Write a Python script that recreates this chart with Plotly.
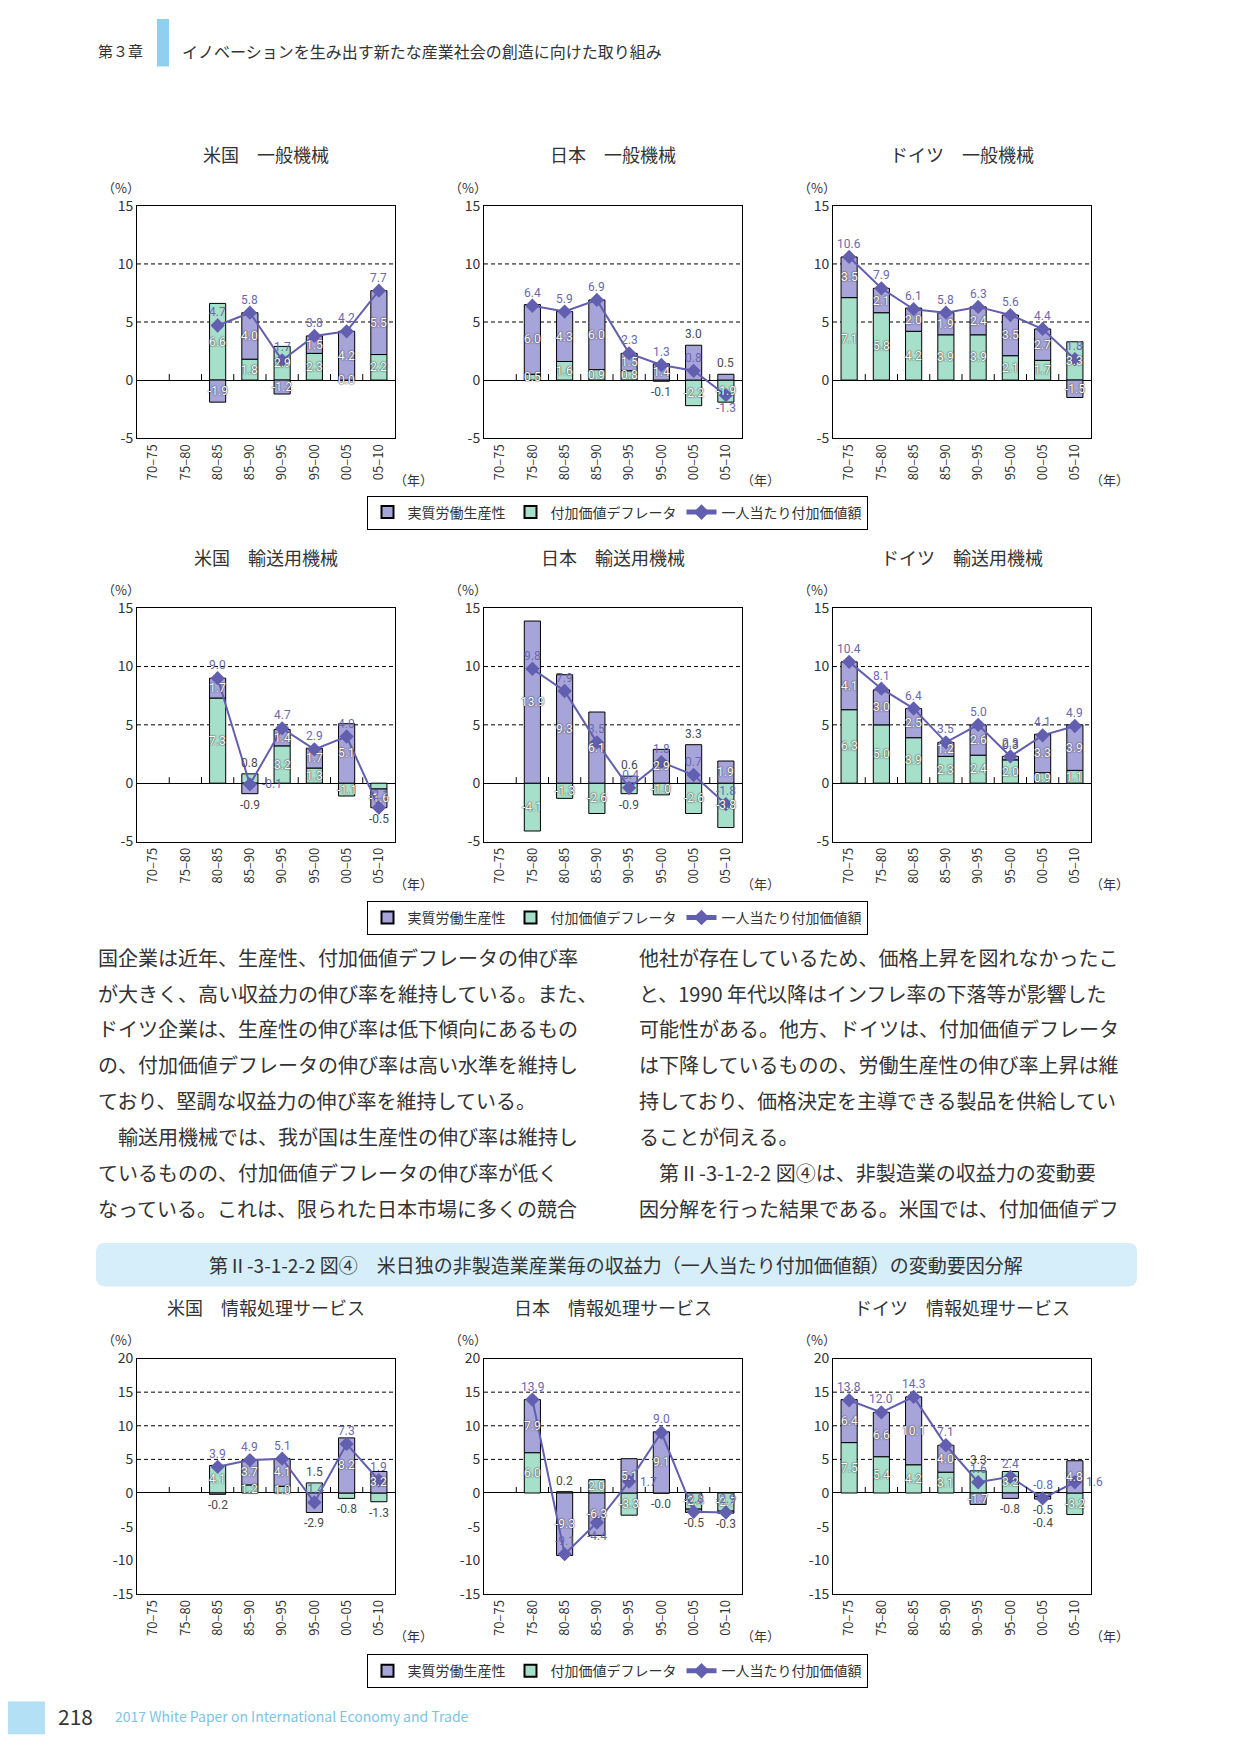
import math
import plotly.graph_objects as go

W, H = 1241, 1754
OFF = 8  # page body margin of the browser

periods = ["70–75", "75–80", "80–85", "85–90", "90–95", "95–00", "00–05", "05–10"]

# 一般機械
us_gen_prod = [None, None, -1.9, 4.0, -1.2, 1.5, 4.2, 5.5]
us_gen_defl = [None, None, 6.6, 1.8, 2.9, 2.3, 0.0, 2.2]
us_gen_total = [None, None, 4.7, 5.8, 1.7, 3.8, 4.2, 7.7]
jp_gen_prod = [None, 6.0, 4.3, 6.0, 1.5, 1.4, 3.0, 0.5]
jp_gen_defl = [None, 0.5, 1.6, 0.9, 0.8, -0.1, -2.2, -1.9]
jp_gen_total = [None, 6.4, 5.9, 6.9, 2.3, 1.3, 0.8, -1.3]
de_gen_prod = [3.5, 2.1, 2.0, 1.9, 2.4, 3.5, 2.7, -1.5]
de_gen_defl = [7.1, 5.8, 4.2, 3.9, 3.9, 2.1, 1.7, 3.3]
de_gen_total = [10.6, 7.9, 6.1, 5.8, 6.3, 5.6, 4.4, 1.8]

# 輸送用機械
us_tr_prod = [None, None, 1.7, -0.9, 1.4, 1.7, 5.1, -1.6]
us_tr_defl = [None, None, 7.3, 0.8, 3.2, 1.3, -1.1, -0.5]
us_tr_total = [None, None, 9.0, -0.1, 4.7, 2.9, 4.0, -2.1]
jp_tr_prod = [None, 13.9, 9.3, 6.1, 0.6, 2.9, 3.3, 1.9]
jp_tr_defl = [None, -4.1, -1.3, -2.6, -0.9, -1.0, -2.6, -3.8]
jp_tr_total = [None, 9.8, 7.9, 3.5, -0.4, 1.8, 0.7, -1.8]
de_tr_prod = [4.1, 3.0, 2.5, 1.2, 2.6, 0.3, 3.3, 3.9]
de_tr_defl = [6.3, 5.0, 3.9, 2.3, 2.4, 2.0, 0.9, 1.1]
de_tr_total = [10.4, 8.1, 6.4, 3.5, 5.0, 2.3, 4.1, 4.9]

# 情報処理サービス
us_it_prod = [None, None, -0.2, 3.7, 4.1, -2.9, 8.2, 3.2]
us_it_defl = [None, None, 4.1, 1.2, 1.0, 1.5, -0.8, -1.3]
us_it_total = [None, None, 3.9, 4.9, 5.1, -1.4, 7.3, 1.9]
jp_it_prod = [None, 7.9, -9.3, -6.3, 5.1, 9.1, -0.5, -0.3]
jp_it_defl = [None, 6.0, 0.2, 2.0, -3.3, -0.0, -2.4, -2.7]
jp_it_total = [None, 13.9, -9.1, -4.4, 1.7, 9.0, -2.8, -2.9]
de_it_prod = [6.4, 6.6, 10.1, 4.0, -1.7, -0.8, -0.4, 4.8]
de_it_defl = [7.5, 5.4, 4.2, 3.1, 3.3, 3.2, -0.5, -3.2]
de_it_total = [13.8, 12.0, 14.3, 7.1, 1.6, 2.4, -0.8, 1.6]

charts = [
    ("米国　一般機械", us_gen_prod, us_gen_defl, us_gen_total),
    ("日本　一般機械", jp_gen_prod, jp_gen_defl, jp_gen_total),
    ("ドイツ　一般機械", de_gen_prod, de_gen_defl, de_gen_total),
    ("米国　輸送用機械", us_tr_prod, us_tr_defl, us_tr_total),
    ("日本　輸送用機械", jp_tr_prod, jp_tr_defl, jp_tr_total),
    ("ドイツ　輸送用機械", de_tr_prod, de_tr_defl, de_tr_total),
    ("米国　情報処理サービス", us_it_prod, us_it_defl, us_it_total),
    ("日本　情報処理サービス", jp_it_prod, jp_it_defl, jp_it_total),
    ("ドイツ　情報処理サービス", de_it_prod, de_it_defl, de_it_total),
]

left_text = [
    "国企業は近年、生産性、付加価値デフレータの伸び率",
    "が大きく、高い収益力の伸び率を維持している。また、",
    "ドイツ企業は、生産性の伸び率は低下傾向にあるもの",
    "の、付加価値デフレータの伸び率は高い水準を維持し",
    "ており、堅調な収益力の伸び率を維持している。",
    "　輸送用機械では、我が国は生産性の伸び率は維持し",
    "ているものの、付加価値デフレータの伸び率が低く",
    "なっている。これは、限られた日本市場に多くの競合",
]
right_text = [
    "他社が存在しているため、価格上昇を図れなかったこ",
    "と、1990 年代以降はインフレ率の下落等が影響した",
    "可能性がある。他方、ドイツは、付加価値デフレータ",
    "は下降しているものの、労働生産性の伸び率上昇は維",
    "持しており、価格決定を主導できる製品を供給してい",
    "ることが伺える。",
    "　第Ⅱ-3-1-2-2 図④は、非製造業の収益力の変動要",
    "因分解を行った結果である。米国では、付加価値デフ",
]

PURPLE = "#a7a4d9"
GREEN = "#a6e0cb"
LINE = "#625eb0"
TXT = "#333333"
FONT = "Noto Sans CJK JP"
NUM_FONT = "Roboto"
WHITE_LABEL = dict(family=NUM_FONT, size=12, color="white", shadow="0px 0px 2px #3a3a3a, 0px 0px 1px #3a3a3a")
DARK_LABEL = dict(family=NUM_FONT, size=12, color="#4a4a4a")
LINE_LABEL = dict(family=NUM_FONT, size=12, color="#6b68ae")

col_x = [137, 484, 833]
plot_w = 258
rows = [
    dict(top=197, bottom=432, rng=[-5, 15], ticks=[-5, 0, 5, 10, 15], grid=[5, 10], legend_top=490),
    dict(top=604, bottom=840, rng=[-5, 15], ticks=[-5, 0, 5, 10, 15], grid=[5, 10], legend_top=900),
    dict(top=1363, bottom=1601, rng=[-15, 20], ticks=[-15, -10, -5, 0, 5, 10, 15, 20], grid=[5, 10, 15], legend_top=1662),
]
legend_names = ["legend", "legend2", "legend3"]
MIN_SEG_PX = 11  # segments thinner than this get their label outside the bar
LH = 14  # label box height used for collision tests


def px(x):
    return (x - OFF) / W


def py(y):
    return 1 - (y - OFF) / H


def text_w(s):
    return 1.08 * sum(4.5 if ch == "-" else 3.3 if ch == "." else 7.0 for ch in s)


def hits(box, boxes):
    for o in boxes:
        if o is box:
            continue
        if abs(box[0] - o[0]) < (box[2] + o[2]) / 2 and abs(box[1] - o[1]) < (box[3] + o[3]) / 2:
            return True
    return False


fig = go.Figure()
annotations = []
shapes = []
layout_axes = {}

for k, (title, prod, defl, total) in enumerate(charts):
    r, c = divmod(k, 3)
    row = rows[r]
    n = k + 1
    suffix = "" if n == 1 else str(n)
    xa, ya = f"x{suffix}", f"y{suffix}"
    x0 = col_x[c]
    leg = legend_names[r]
    show = c == 0
    upp = (row["bottom"] - row["top"]) / (row["rng"][1] - row["rng"][0])
    cat_w = plot_w / len(periods)

    fig.add_trace(go.Bar(
        x=periods, y=defl, xaxis=xa, yaxis=ya, width=0.5,
        marker=dict(color=GREEN, line=dict(color="black", width=1)),
        name="付加価値デフレータ", legend=leg, showlegend=show, legendrank=2,
    ))
    fig.add_trace(go.Bar(
        x=periods, y=prod, xaxis=xa, yaxis=ya, width=0.5,
        marker=dict(color=PURPLE, line=dict(color="black", width=1)),
        name="実質労働生産性", legend=leg, showlegend=show, legendrank=1,
    ))
    fig.add_trace(go.Scatter(
        x=periods, y=total, xaxis=xa, yaxis=ya, mode="lines+markers",
        line=dict(color=LINE, width=2),
        marker=dict(symbol="diamond", size=11, color=LINE),
        name="一人当たり付加価値額", legend=leg, showlegend=show, legendrank=3,
    ))

    layout_axes[f"xaxis{suffix}"] = dict(
        domain=[px(x0), px(x0 + plot_w)], anchor=ya, type="category",
        categoryorder="array", categoryarray=periods, range=[-0.5, 7.5],
        tickangle=-90, showline=True, mirror=True, linecolor="black", linewidth=1,
        ticks="", showgrid=False, tickfont=dict(size=13, color=TXT),
    )
    layout_axes[f"yaxis{suffix}"] = dict(
        domain=[py(row["bottom"]), py(row["top"])], anchor=xa,
        range=row["rng"], tickvals=row["ticks"], ticktext=[str(t) for t in row["ticks"]],
        showgrid=False, zeroline=True, zerolinecolor="black", zerolinewidth=1,
        showline=True, mirror=True, linecolor="black", linewidth=1,
        ticks="", tickfont=dict(size=14, color=TXT),
    )

    # dashed gridlines
    for g in row["grid"]:
        shapes.append(dict(type="line", xref=f"{xa} domain", yref=ya, x0=0, x1=1, y0=g, y1=g,
                           line=dict(color="black", width=1, dash="4px,3px"), layer="below"))
    # category boundary ticks on zero line
    for i in range(len(periods) - 1):
        shapes.append(dict(type="line", xref=xa, yref=ya, x0=i + 0.5, x1=i + 0.5,
                           ysizemode="pixel", yanchor=0, y0=0, y1=6,
                           line=dict(color="black", width=1)))

    # titles and axis notes
    annotations.append(dict(text=title, xref="paper", yref="paper", x=px(x0 + plot_w / 2),
                            y=py(row["top"] - 52), xanchor="center", yanchor="middle",
                            showarrow=False, font=dict(size=18, color=TXT)))
    annotations.append(dict(text="（%）", xref="paper", yref="paper", x=px(x0 - 16),
                            y=py(row["top"] - 19), xanchor="center", yanchor="middle",
                            showarrow=False, font=dict(size=13, color=TXT)))
    annotations.append(dict(text="（年）", xref="paper", yref="paper", x=px(x0 + plot_w - 3),
                            y=py(row["bottom"] + 42), xanchor="left", yanchor="middle",
                            showarrow=False, font=dict(size=13, color=TXT)))

    # segment labels (first pass); boxes in pixels (cx, cy, w, h), y upwards
    entries = []
    for i, p in enumerate(periods):
        if total[i] is None:
            continue
        cx = (i + 0.5) * cat_w
        pos_base, neg_base = 0.0, 0.0
        segs = []
        for v in (defl[i], prod[i]):
            neg = math.copysign(1, v) < 0
            if neg:
                hi, lo = neg_base, neg_base + v
                neg_base = lo
            else:
                lo, hi = pos_base, pos_base + v
                pos_base = hi
            segs.append((v, lo, hi, neg))
        below = 0
        for v, lo, hi, neg in segs:
            label = f"{v:.1f}"
            w = text_w(label)
            outer = None
            if not neg and hi == pos_base:
                outer = ("top", pos_base)
            elif neg and lo == neg_base:
                outer = ("bottom", neg_base)
            ann = dict(text=label, xref=xa, yref=ya, x=p, showarrow=False, xanchor="center")
            big = abs(v) * upp >= MIN_SEG_PX
            if big or (not neg and outer is None):
                y = (lo + hi) / 2
                ann.update(y=y, yanchor="middle", font=WHITE_LABEL)
                box = (cx, y * upp, w, LH)
                mode = "mid"
            elif neg:
                shift = -2 - 13 * below
                ann.update(y=neg_base, yanchor="top", yshift=shift, font=DARK_LABEL)
                box = (cx, neg_base * upp + shift - 6.5, w, LH)
                below += 1
                mode = "out"
            else:
                ann.update(y=pos_base, yanchor="bottom", yshift=2, font=DARK_LABEL)
                box = (cx, pos_base * upp + 8.5, w, LH)
                mode = "out"
            annotations.append(ann)
            entries.append(dict(i=i, ann=ann, box=box, mode=mode, outer=outer, w=w))

    line_boxes = []

    def all_boxes():
        return [e["box"] for e in entries] + line_boxes

    # line labels (second pass): try positions around the marker
    for i, p in enumerate(periods):
        t = total[i]
        if t is None:
            continue
        cx = (i + 0.5) * cat_w
        ty = t * upp
        label = f"{t:.1f}"
        w = text_w(label)
        cands = [(0, 13), (10 + w / 2, 0), (-10 - w / 2, 0),
                 (8 + w / 2, 10), (-8 - w / 2, 10), (0, -13),
                 (8 + w / 2, -10), (-8 - w / 2, -10)]

        def place():
            for dx, dy in cands:
                b = (cx + dx, ty + dy, w, LH)
                if not hits(b, all_boxes()):
                    return (dx, dy)
            return None

        chosen = place()
        if chosen is None:
            above = (cx, ty + 13, w, LH)
            for e in entries:
                if e["i"] != i or e["mode"] != "mid" or e["outer"] is None:
                    continue
                if not hits(above, [e["box"]]):
                    continue
                side, edge = e["outer"]
                if side == "top":
                    nb = (cx, edge * upp + 8.5, e["w"], LH)
                    upd = dict(y=edge, yanchor="bottom", yshift=2, font=DARK_LABEL)
                else:
                    nb = (cx, edge * upp - 8.5, e["w"], LH)
                    upd = dict(y=edge, yanchor="top", yshift=-2, font=DARK_LABEL)
                old = e["box"]
                e["box"] = nb
                if hits(nb, all_boxes()):
                    e["box"] = old
                    continue
                e["ann"].update(upd)
                e["mode"] = "out"
            chosen = place() or (0, 13)
        line_boxes.append((cx + chosen[0], ty + chosen[1], w, LH))
        annotations.append(dict(text=label, xref=xa, yref=ya, x=p, y=t, showarrow=False,
                                xanchor="center", yanchor="middle", xshift=chosen[0], yshift=chosen[1],
                                font=LINE_LABEL))

# legends
legend_style = dict(orientation="h", xanchor="center", yanchor="top", x=px(617),
                    bordercolor="black", borderwidth=1, bgcolor="white",
                    font=dict(size=14, color=TXT), itemsizing="constant",
                    tracegroupgap=0, traceorder="normal")
legends = {}
for r, name in enumerate(legend_names):
    legends[name] = dict(legend_style, y=py(rows[r]["legend_top"]))

# body text
for i, line in enumerate(left_text):
    annotations.append(dict(text=line, xref="paper", yref="paper", x=px(96), y=py(957 + 36.3 * i),
                            xanchor="left", yanchor="middle", showarrow=False,
                            font=dict(size=20, color=TXT)))
for i, line in enumerate(right_text):
    annotations.append(dict(text=line, xref="paper", yref="paper", x=px(637), y=py(957 + 36.3 * i),
                            xanchor="left", yanchor="middle", showarrow=False,
                            font=dict(size=20, color=TXT)))

# header
shapes.append(dict(type="rect", xref="paper", yref="paper", x0=px(157), x1=px(169),
                   y0=py(56), y1=1, fillcolor="#8fd0ef", line=dict(width=0)))
annotations.append(dict(text="第３章", xref="paper", yref="paper", x=px(96), y=py(40),
                        xanchor="left", yanchor="middle", showarrow=False, font=dict(size=15, color=TXT)))
annotations.append(dict(text="イノベーションを生み出す新たな産業社会の創造に向けた取り組み",
                        xref="paper", yref="paper", x=px(180), y=py(40), xanchor="left",
                        yanchor="middle", showarrow=False, font=dict(size=16, color=TXT)))

# figure banner (rounded)
bx0, bx1, by0, by1, rad = 96, 1137, 1246, 1290, 9
path = (f"M {px(bx0 + rad)},{py(by0)} L {px(bx1 - rad)},{py(by0)} "
        f"Q {px(bx1)},{py(by0)} {px(bx1)},{py(by0 + rad)} L {px(bx1)},{py(by1 - rad)} "
        f"Q {px(bx1)},{py(by1)} {px(bx1 - rad)},{py(by1)} L {px(bx0 + rad)},{py(by1)} "
        f"Q {px(bx0)},{py(by1)} {px(bx0)},{py(by1 - rad)} L {px(bx0)},{py(by0 + rad)} "
        f"Q {px(bx0)},{py(by0)} {px(bx0 + rad)},{py(by0)} Z")
shapes.append(dict(type="path", xref="paper", yref="paper", path=path,
                   fillcolor="#d5eef9", line=dict(width=0), layer="below"))
annotations.append(dict(text="第Ⅱ-3-1-2-2 図④　米日独の非製造業産業毎の収益力（一人当たり付加価値額）の変動要因分解",
                        xref="paper", yref="paper", x=px(616), y=py(1268), xanchor="center",
                        yanchor="middle", showarrow=False, font=dict(size=19, color=TXT)))

# footer
shapes.append(dict(type="rect", xref="paper", yref="paper", x0=0, x1=px(45),
                   y0=py(1743), y1=py(1710), fillcolor="#b3e0f5", line=dict(width=0)))
annotations.append(dict(text="218", xref="paper", yref="paper", x=px(56), y=py(1725),
                        xanchor="left", yanchor="middle", showarrow=False, font=dict(size=21, color=TXT)))
annotations.append(dict(text="2017 White Paper on International Economy and Trade", xref="paper",
                        yref="paper", x=px(113), y=py(1725), xanchor="left", yanchor="middle",
                        showarrow=False, font=dict(size=14, color="#7cc4e6")))

fig.update_layout(
    width=W, height=H, margin=dict(l=0, r=0, t=0, b=0),
    paper_bgcolor="white", plot_bgcolor="white",
    barmode="relative", font=dict(family=FONT, color=TXT),
    annotations=annotations, shapes=shapes,
    **layout_axes, **legends,
)

fig.write_html("out.html")
